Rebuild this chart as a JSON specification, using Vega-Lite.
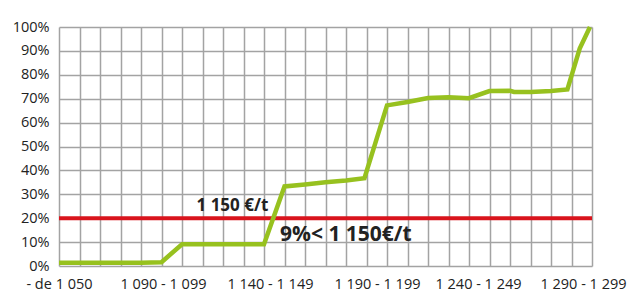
{
  "$schema": "https://vega.github.io/schema/vega-lite/v6.json",
  "width": 533,
  "height": 239,
  "autosize": "none",
  "padding": {"left": 59, "top": 27, "right": 43, "bottom": 27},
  "background": "white",
  "config": {
    "view": {"stroke": null},
    "axis": {
      "labelFont": "Open Sans",
      "labelFontSize": 14.5,
      "labelColor": "#222222",
      "gridColor": "#a3a3a3",
      "gridWidth": 1.5,
      "gridOpacity": 1,
      "domain": false,
      "ticks": false,
      "title": null
    }
  },
  "datasets": {
    "curve": [
      {"x": 1040, "y": 0.014},
      {"x": 1050, "y": 0.014},
      {"x": 1060, "y": 0.014},
      {"x": 1070, "y": 0.014},
      {"x": 1080, "y": 0.014},
      {"x": 1090, "y": 0.016},
      {"x": 1100, "y": 0.091},
      {"x": 1110, "y": 0.091},
      {"x": 1120, "y": 0.091},
      {"x": 1130, "y": 0.091},
      {"x": 1140, "y": 0.091},
      {"x": 1150, "y": 0.333},
      {"x": 1160, "y": 0.341},
      {"x": 1170, "y": 0.35},
      {"x": 1180, "y": 0.358},
      {"x": 1189, "y": 0.367},
      {"x": 1200, "y": 0.672},
      {"x": 1210, "y": 0.686},
      {"x": 1220, "y": 0.703},
      {"x": 1230, "y": 0.706},
      {"x": 1240, "y": 0.702},
      {"x": 1250, "y": 0.732},
      {"x": 1260, "y": 0.733},
      {"x": 1262, "y": 0.728},
      {"x": 1270, "y": 0.728},
      {"x": 1280, "y": 0.732},
      {"x": 1288, "y": 0.739},
      {"x": 1294, "y": 0.91},
      {"x": 1299, "y": 1.0}
    ],
    "threshold": [{"y": 0.2}],
    "note1": [{"x": 1124.6, "y": 0.231, "t": "1 150 €/t"}],
    "note2": [{"x": 1147.8, "y": 0.105, "t": "9%< 1 150€/t"}]
  },
  "resolve": {"axis": {"x": "independent"}},
  "layer": [
    {
      "data": {"name": "threshold"},
      "mark": {"type": "rule", "color": "#d9141c", "strokeWidth": 4},
      "encoding": {
        "y": {"field": "y", "type": "quantitative", "scale": {"domain": [0, 1], "nice": false},
          "axis": {"values": [0, 0.1, 0.2, 0.3, 0.4, 0.5, 0.6, 0.7, 0.8, 0.9, 1], "format": ".0%", "labelPadding": 10, "grid": true}}
      }
    },
    {
      "data": {"name": "curve"},
      "mark": {"type": "line", "color": "#97c11f", "strokeWidth": 4.5, "strokeJoin": "miter"},
      "encoding": {
        "x": {"field": "x", "type": "quantitative", "scale": {"domain": [1040, 1300], "nice": false, "zero": false},
          "axis": {"orient": "bottom", "labels": false, "grid": true,
            "values": [1040, 1050, 1060, 1070, 1080, 1090, 1100, 1110, 1120, 1130, 1140, 1150, 1160, 1170, 1180, 1190, 1200, 1210, 1220, 1230, 1240, 1250, 1260, 1270, 1280, 1290, 1300]}},
        "y": {"field": "y", "type": "quantitative",
          "axis": {"values": [0, 0.1, 0.2, 0.3, 0.4, 0.5, 0.6, 0.7, 0.8, 0.9, 1], "format": ".0%", "labelPadding": 10, "grid": true}}
      }
    },
    {
      "data": {"name": "note1"},
      "mark": {"type": "text", "font": "Open Sans", "fontWeight": "bold", "fontSize": 17, "align": "center", "baseline": "alphabetic", "color": "#222222"},
      "encoding": {
        "x": {"field": "x", "type": "quantitative",
          "axis": {"orient": "bottom", "grid": false, "labelFlush": false, "labelOverlap": false,
            "labelPadding": 11.5,
            "values": [1040, 1090.7, 1142.9, 1195.1, 1244.4, 1295.6],
            "labelExpr": "datum.value < 1050 ? '- de 1 050' : datum.value < 1100 ? '1 090 - 1 099' : datum.value < 1150 ? '1 140 - 1 149' : datum.value < 1200 ? '1 190 - 1 199' : datum.value < 1250 ? '1 240 - 1 249' : '1 290 - 1 299'"}},
        "y": {"field": "y", "type": "quantitative",
          "axis": {"values": [0, 0.1, 0.2, 0.3, 0.4, 0.5, 0.6, 0.7, 0.8, 0.9, 1], "format": ".0%", "labelPadding": 10, "grid": true}},
        "text": {"field": "t"}
      }
    },
    {
      "data": {"name": "note2"},
      "mark": {"type": "text", "font": "Open Sans", "fontWeight": "bold", "fontSize": 21, "align": "left", "baseline": "alphabetic", "color": "#222222"},
      "encoding": {
        "x": {"field": "x", "type": "quantitative", "axis": null},
        "y": {"field": "y", "type": "quantitative",
          "axis": {"values": [0, 0.1, 0.2, 0.3, 0.4, 0.5, 0.6, 0.7, 0.8, 0.9, 1], "format": ".0%", "labelPadding": 10, "grid": true}},
        "text": {"field": "t"}
      }
    }
  ]
}
